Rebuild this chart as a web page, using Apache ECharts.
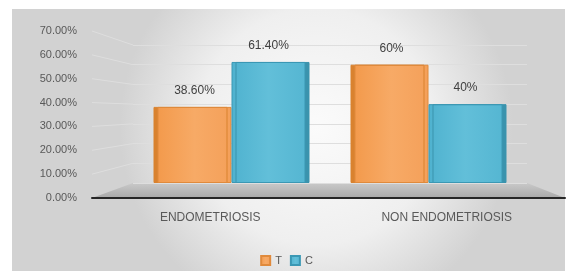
<!DOCTYPE html>
<html>
<head>
<meta charset="utf-8">
<script src="https://cdn.jsdelivr.net/npm/echarts@6/dist/echarts.min.js"></script>
<style>
  html, body { margin: 0; padding: 0; background: #fff; }
  #chart { width: 573px; height: 271px; }
</style>
</head>
<body>
<div id="chart"></div>
<script>
const categories = ["ENDOMETRIOSIS", "NON ENDOMETRIOSIS"];
const seriesNames = ["T", "C"];
const valuesT = [38.6, 60];
const valuesC = [61.4, 40];
const labelsT = ["38.60%", "60%"];
const labelsC = ["61.40%", "40%"];
const tickValues = [0, 10, 20, 30, 40, 50, 60, 70];

const chart = echarts.init(document.getElementById("chart"));

const axisFont = { color: "#595959", fontSize: 11, fontFamily: "Liberation Sans" };

const option = {
  animation: false,
  backgroundColor: "#ffffff",
  color: ["#f5a25a", "#56b7d2"],
  grid: [
    // front grid: value labels + category labels + black baseline
    { left: 92, right: 8, top: 31, bottom: 73 },
    // back wall: where the bars stand
    { left: 133, right: 46, top: 45, bottom: 88 }
  ],
  legend: {
    data: seriesNames,
    bottom: 0,
    left: "center",
    itemWidth: 9,
    itemHeight: 9,
    itemGap: 8,
    icon: "rect",
    textStyle: { color: "#595959", fontSize: 11, fontFamily: "Liberation Sans" }
  },
  xAxis: [
    {
      gridIndex: 0,
      type: "category",
      data: categories,
      axisLine: { lineStyle: { color: "#262626", width: 2 } },
      axisTick: { show: false },
      axisLabel: { ...axisFont, fontSize: 12, margin: 14 }
    },
    {
      gridIndex: 1,
      type: "category",
      data: categories,
      axisLine: { show: false },
      axisTick: { show: false },
      axisLabel: { show: false }
    }
  ],
  yAxis: [
    {
      gridIndex: 0,
      type: "value",
      min: 0,
      max: 70,
      interval: 10,
      axisLine: { show: false },
      axisTick: { show: false },
      splitLine: { show: false },
      axisLabel: { ...axisFont, margin: 15, formatter: v => v.toFixed(2) + "%" }
    },
    {
      gridIndex: 1,
      type: "value",
      min: 0,
      max: 70,
      interval: 10,
      axisLine: { show: false },
      axisTick: { show: false },
      axisLabel: { show: false },
      splitLine: { lineStyle: { color: "#dedede", width: 1 } }
    }
  ],
  series: [
    {
      name: "T",
      type: "bar",
      xAxisIndex: 1,
      yAxisIndex: 1,
      data: valuesT,
      barWidth: 74,
      barGap: "0%",
      itemStyle: {
        color: new echarts.graphic.LinearGradient(0, 0, 1, 0, [
          { offset: 0, color: "#f39a4c" },
          { offset: 0.5, color: "#f7aa66" },
          { offset: 1, color: "#f4a05a" }
        ]),
        borderColor: "#e08a3c",
        borderWidth: 1,
        shadowColor: "#d9822f",
        shadowOffsetX: -4,
        shadowOffsetY: 0,
        shadowBlur: 0
      },
      label: {
        show: true,
        position: "top",
        distance: 10,
        color: "#404040",
        fontSize: 12,
        fontFamily: "Liberation Sans",
        formatter: p => labelsT[p.dataIndex]
      }
    },
    {
      name: "C",
      type: "bar",
      xAxisIndex: 1,
      yAxisIndex: 1,
      data: valuesC,
      barWidth: 74,
      barGap: "0%",
      itemStyle: {
        color: new echarts.graphic.LinearGradient(0, 0, 1, 0, [
          { offset: 0, color: "#4fb2cf" },
          { offset: 0.5, color: "#62bfd9" },
          { offset: 1, color: "#55b6d2" }
        ]),
        borderColor: "#3b98b4",
        borderWidth: 1,
        shadowColor: "#3a93ad",
        shadowOffsetX: 4,
        shadowOffsetY: 0,
        shadowBlur: 0
      },
      label: {
        show: true,
        position: "top",
        distance: 10,
        color: "#404040",
        fontSize: 12,
        fontFamily: "Liberation Sans",
        formatter: p => labelsC[p.dataIndex]
      }
    }
  ]
};

chart.setOption(option);

// perspective decoration: panel background, floor and the slanted grid lines
// joining the front value labels to the back wall
function drawDecor() {
  const front0 = chart.convertToPixel({ yAxisIndex: 0 }, 0);
  const back0 = chart.convertToPixel({ yAxisIndex: 1 }, 0);
  const frontL = 92, frontR = 565, backL = 133, backR = 527;
  const elements = [
    {
      type: "rect",
      z: -10,
      silent: true,
      shape: { x: 12, y: 9, width: 553, height: 262 },
      style: {
        fill: new echarts.graphic.RadialGradient(0.55, 0.45, 0.75, [
          { offset: 0, color: "#fbfbfb" },
          { offset: 0.6, color: "#efefef" },
          { offset: 1, color: "#d2d2d2" }
        ])
      }
    },
    {
      type: "polygon",
      z: -5,
      silent: true,
      shape: { points: [[frontL, front0], [frontR, front0], [backR, back0], [backL, back0]] },
      style: {
        fill: new echarts.graphic.LinearGradient(0, 0, 0, 1, [
          { offset: 0, color: "#c9c9c9" },
          { offset: 1, color: "#a9a9a9" }
        ])
      }
    }
  ];
  tickValues.forEach(v => {
    if (v === 0) return;
    const y0 = chart.convertToPixel({ yAxisIndex: 0 }, v);
    const y1 = chart.convertToPixel({ yAxisIndex: 1 }, v);
    elements.push({
      type: "line",
      z: -4,
      silent: true,
      shape: { x1: frontL, y1: y0, x2: backL, y2: y1 },
      style: { stroke: "#dedede", lineWidth: 1 }
    });
  });
  chart.setOption({ graphic: { elements: elements } });
}
drawDecor();
</script>
</body>
</html>
